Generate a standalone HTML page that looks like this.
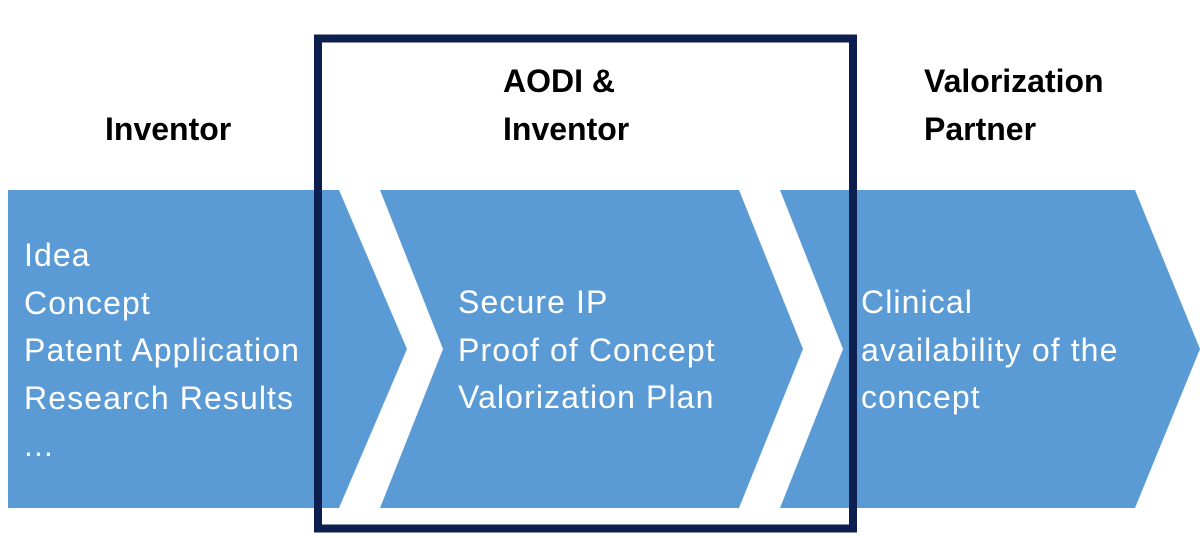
<!DOCTYPE html>
<html><head><style>
html,body{margin:0;padding:0;background:#fff;}
body{width:1200px;height:538px;position:relative;overflow:hidden;font-family:"Liberation Sans",sans-serif;}
.h{position:absolute;font-weight:bold;font-size:32px;color:#000;line-height:48px;white-space:nowrap;}
.t{position:absolute;color:#fff;font-size:32px;letter-spacing:1.1px;line-height:47.5px;white-space:nowrap;}
</style></head><body>
<svg width="1200" height="538" style="position:absolute;left:0;top:0">
<polygon points="8,190 339,190 407,349 339,508 8,508" fill="#5b9bd5"/>
<polygon points="380,190 739,190 803,349 739,508 380,508 443,349" fill="#5b9bd5"/>
<polygon points="780,190 1135,190 1200,349 1135,508 780,508 843,349" fill="#5b9bd5"/>
<rect x="318" y="38.5" width="535" height="490" fill="none" stroke="#0c1f4e" stroke-width="8"/>
</svg>
<div class="h" style="left:105px;top:105px">Inventor</div>
<div class="h" style="left:503px;top:57px">AODI &amp;<br>Inventor</div>
<div class="h" style="left:924px;top:57px">Valorization<br>Partner</div>
<div class="t" style="left:24px;top:232px">Idea<br>Concept<br>Patent Application<br>Research Results<br>...</div>
<div class="t" style="left:458px;top:279px">Secure IP<br>Proof of Concept<br>Valorization Plan</div>
<div class="t" style="left:861px;top:279px">Clinical<br>availability of the<br>concept</div>
</body></html>
